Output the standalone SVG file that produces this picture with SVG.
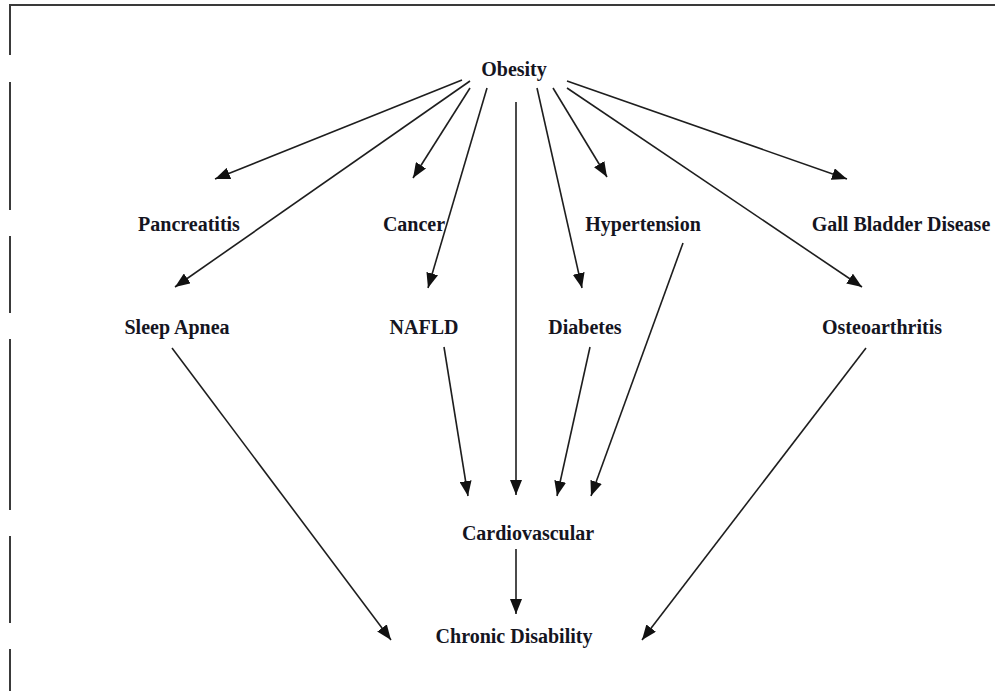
<svg xmlns="http://www.w3.org/2000/svg" width="995" height="691" viewBox="0 0 995 691">
  <style>
    .frame { stroke: #3a3a3a; stroke-width: 2; fill: none; }
    .label { font-family: "Liberation Serif", "Times New Roman", serif; font-size: 20px; font-weight: bold; fill: #15151f; text-anchor: middle; }
    .edge { stroke: #1e1e1e; stroke-width: 1.6; fill: none; marker-end: url(#head); }
  </style>
  <defs>
    <marker id="head" markerUnits="userSpaceOnUse" markerWidth="15" markerHeight="12" refX="15" refY="6" orient="auto">
      <path d="M0,0 L15,6 L0,12 z" fill="#111"/>
    </marker>
  </defs>
  <rect width="995" height="691" fill="#fff"/>

  <!-- page frame: top rule and broken left rule -->
  <g id="frame">
    <line class="frame" x1="9" y1="5" x2="995" y2="5"/>
    <line class="frame" x1="10" y1="4" x2="10" y2="55"/>
    <line class="frame" x1="10" y1="82" x2="10" y2="210"/>
    <line class="frame" x1="10" y1="236" x2="10" y2="313"/>
    <line class="frame" x1="10" y1="339" x2="10" y2="510"/>
    <line class="frame" x1="10" y1="536" x2="10" y2="623"/>
    <line class="frame" x1="10" y1="649" x2="10" y2="691"/>
  </g>

  <g id="connectors">
    <line class="edge" x1="462" y1="80" x2="215" y2="179"/>
    <line class="edge" x1="470" y1="81" x2="175" y2="287"/>
    <line class="edge" x1="470" y1="88" x2="413" y2="178"/>
    <line class="edge" x1="487" y1="88" x2="428" y2="288"/>
    <line class="edge" x1="516" y1="102" x2="516" y2="495"/>
    <line class="edge" x1="537" y1="88" x2="582" y2="288"/>
    <line class="edge" x1="553" y1="88" x2="607" y2="177"/>
    <line class="edge" x1="567" y1="81" x2="847" y2="179"/>
    <line class="edge" x1="567" y1="88" x2="862" y2="287"/>
    <line class="edge" x1="444" y1="347" x2="468" y2="496"/>
    <line class="edge" x1="590" y1="347" x2="557" y2="496"/>
    <line class="edge" x1="683" y1="243" x2="591" y2="496"/>
    <line class="edge" x1="516" y1="549" x2="516" y2="614"/>
    <line class="edge" x1="172" y1="348" x2="391" y2="640"/>
    <line class="edge" x1="866" y1="348" x2="642" y2="640"/>
  </g>

  <g id="obesity"><text class="label" x="514" y="76">Obesity</text></g>
  <g id="pancreatitis"><text class="label" x="189" y="231">Pancreatitis</text></g>
  <g id="cancer"><text class="label" x="414" y="231">Cancer</text></g>
  <g id="hypertension"><text class="label" x="643" y="231">Hypertension</text></g>
  <g id="gall-bladder"><text class="label" x="901" y="231">Gall Bladder Disease</text></g>
  <g id="sleep-apnea"><text class="label" x="177" y="334">Sleep Apnea</text></g>
  <g id="nafld"><text class="label" x="424" y="334">NAFLD</text></g>
  <g id="diabetes"><text class="label" x="585" y="334">Diabetes</text></g>
  <g id="osteoarthritis"><text class="label" x="882" y="334">Osteoarthritis</text></g>
  <g id="cardiovascular"><text class="label" x="528" y="540">Cardiovascular</text></g>
  <g id="chronic-disability"><text class="label" x="514" y="643">Chronic Disability</text></g>
</svg>
